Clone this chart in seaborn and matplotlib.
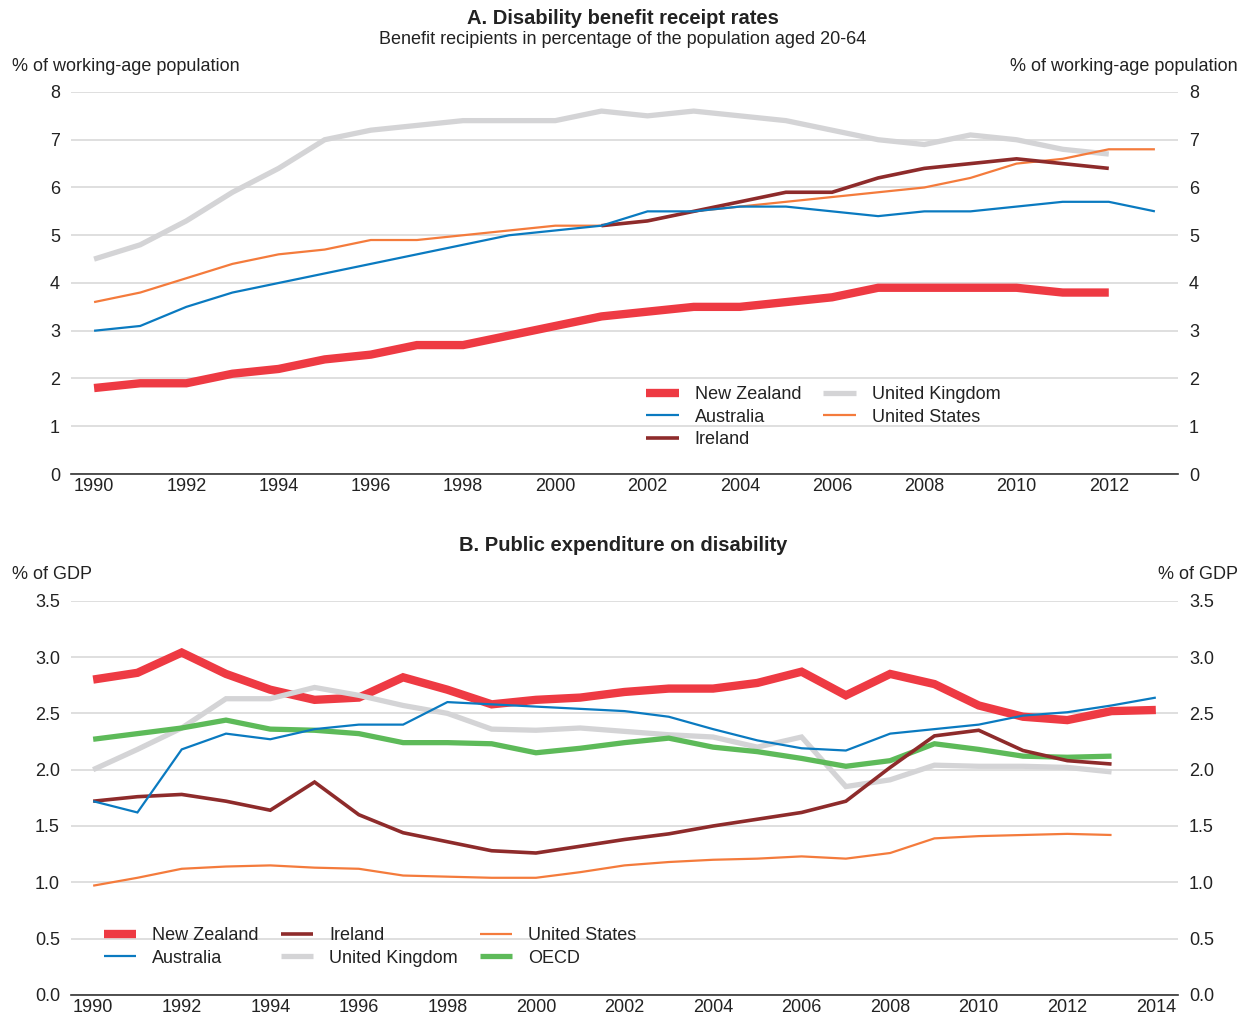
import numpy as np
import pandas as pd
import matplotlib
matplotlib.use("Agg")
import matplotlib.pyplot as plt
import matplotlib.ticker as mticker
import seaborn as sns

# ─── Data ────────────────────────────────────────────────────────────────────
nan = np.nan
years_a = list(range(1990, 2014))
nz_a = [1.8, 1.9, 1.9, 2.1, 2.2, 2.4, 2.5, 2.7, 2.7, 2.9, 3.1, 3.3,
        3.4, 3.5, 3.5, 3.6, 3.7, 3.9, 3.9, 3.9, 3.9, 3.8, 3.8, nan]
aus_a = [3.0, 3.1, 3.5, 3.8, 4.0, 4.2, 4.4, 4.6, 4.8, 5.0, 5.1, 5.2,
         5.5, 5.5, 5.6, 5.6, 5.5, 5.4, 5.5, 5.5, 5.6, 5.7, 5.7, 5.5]
irl_a = [nan, nan, nan, nan, nan, nan, nan, nan, nan, nan, nan, 5.2,
         5.3, 5.5, 5.7, 5.9, 5.9, 6.2, 6.4, 6.5, 6.6, 6.5, 6.4, nan]
uk_a = [4.5, 4.8, 5.3, 5.9, 6.4, 7.0, 7.2, 7.3, 7.4, 7.4, 7.4, 7.6,
        7.5, 7.6, 7.5, 7.4, 7.2, 7.0, 6.9, 7.1, 7.0, 6.8, 6.7, nan]
us_a = [3.6, 3.8, 4.1, 4.4, 4.6, 4.7, 4.9, 4.9, 5.0, 5.1, 5.2, 5.2,
        5.3, 5.5, 5.6, 5.7, 5.8, 5.9, 6.0, 6.2, 6.5, 6.6, 6.8, 6.8]

years_b = list(range(1990, 2015))
nz_b = [2.80, 2.86, 3.04, 2.85, 2.71, 2.62, 2.64, 2.82, 2.71, 2.58, 2.62, 2.64, 2.69,
        2.72, 2.72, 2.77, 2.87, 2.66, 2.85, 2.76, 2.57, 2.47, 2.44, 2.52, 2.53]
aus_b = [1.72, 1.62, 2.18, 2.32, 2.27, 2.36, 2.40, 2.40, 2.60, 2.58, 2.56, 2.54, 2.52,
         2.47, 2.36, 2.26, 2.19, 2.17, 2.32, 2.36, 2.40, 2.48, 2.51, 2.57, 2.64]
irl_b = [1.72, 1.76, 1.78, 1.72, 1.64, 1.89, 1.60, 1.44, 1.36, 1.28, 1.26, 1.32, 1.38,
         1.43, 1.50, 1.56, 1.62, 1.72, 2.02, 2.30, 2.35, 2.17, 2.08, 2.05, nan]
uk_b = [2.00, 2.18, 2.37, 2.63, 2.63, 2.73, 2.66, 2.57, 2.50, 2.36, 2.35, 2.37, 2.34,
        2.31, 2.29, 2.20, 2.29, 1.85, 1.91, 2.04, 2.03, 2.03, 2.02, 1.98, nan]
us_b = [0.97, 1.04, 1.12, 1.14, 1.15, 1.13, 1.12, 1.06, 1.05, 1.04, 1.04, 1.09, 1.15,
        1.18, 1.20, 1.21, 1.23, 1.21, 1.26, 1.39, 1.41, 1.42, 1.43, 1.42, nan]
oecd_b = [2.27, 2.32, 2.37, 2.44, 2.36, 2.35, 2.32, 2.24, 2.24, 2.23, 2.15, 2.19, 2.24,
          2.28, 2.20, 2.16, 2.10, 2.03, 2.08, 2.23, 2.18, 2.12, 2.11, 2.12, nan]

# ─── Style ───────────────────────────────────────────────────────────────────
COLORS = {
    "New Zealand":    "#EE3A43",
    "Australia":      "#0A7AC0",
    "Ireland":        "#8E2B2B",
    "United Kingdom": "#D4D4D6",
    "United States":  "#F47B3C",
    "OECD":           "#5DBA59",
}
WIDTHS = {
    "New Zealand": 6.0, "Australia": 1.6, "Ireland": 2.6,
    "United Kingdom": 3.8, "United States": 1.6, "OECD": 3.8,
}
GRID = "#D9D9D9"
TEXT = "#222222"

sns.set_theme(style="white")
plt.rcParams.update({
    "font.family": ["Liberation Sans", "DejaVu Sans"],
    "text.color": TEXT,
    "xtick.color": TEXT,
    "ytick.color": TEXT,
})
FS = 13
LEG = dict(frameon=False, fontsize=FS, loc="upper left", handlelength=1.8,
           handletextpad=0.9, columnspacing=1.2, labelspacing=0.3,
           borderaxespad=0)


def style_axis(ax, ymax, ystep, xmax, fmt):
    ax.set_xlim(1989.5, xmax + 0.5)
    ax.set_ylim(0, ymax)
    ax.yaxis.set_major_locator(mticker.MultipleLocator(ystep))
    ax.yaxis.set_major_formatter(mticker.FormatStrFormatter(fmt))
    ax.grid(axis="y", color=GRID, linewidth=1.2)
    ax.set_axisbelow(True)
    for s in ["left", "right", "top"]:
        ax.spines[s].set_visible(False)
    ax.spines["bottom"].set_color("#333333")
    ax.spines["bottom"].set_linewidth(1.2)
    ax.set_xticks(list(range(1990, xmax + 1, 2)))
    ax.set_xticks(np.arange(1989.5, xmax + 1, 1), minor=True)
    ax.tick_params(axis="x", which="major", length=0, pad=3, labelsize=FS)
    ax.tick_params(axis="x", which="minor", direction="in", length=4,
                   width=1, color="#333333")
    ax.tick_params(axis="y", length=0, labelsize=FS, pad=8,
                   labelleft=True, labelright=True)
    ax.set_xlabel("")
    ax.set_ylabel("")


def draw(ax, years, series):
    for name, vals in series:
        df = pd.DataFrame({"year": years, "value": vals}).dropna()
        sns.lineplot(data=df, x="year", y="value", ax=ax, color=COLORS[name],
                     linewidth=WIDTHS[name], label=name, legend=False,
                     solid_capstyle="butt", solid_joinstyle="miter")


fig = plt.figure(figsize=(12.46, 10.22), dpi=100)
ax_a = fig.add_axes([0.057, 0.5362, 0.8884, 0.3738])
ax_b = fig.add_axes([0.057, 0.0265, 0.8884, 0.3857])

# ─── A. Benefit receipt rates ────────────────────────────────────────────────
draw(ax_a, years_a, [("United Kingdom", uk_a), ("New Zealand", nz_a),
                     ("United States", us_a), ("Ireland", irl_a),
                     ("Australia", aus_a)])
style_axis(ax_a, 8, 1, 2013, "%d")
order_a = ["New Zealand", "Australia", "Ireland", "United Kingdom", "United States"]
h, l = ax_a.get_legend_handles_labels()
hd = dict(zip(l, h))
ax_a.legend([hd[k] for k in order_a], order_a, ncol=2,
            bbox_to_anchor=(0.513, 0.249), **LEG)

fig.text(0.5, 0.982, "A. Disability benefit receipt rates", ha="center",
         va="center", fontsize=14.5, fontweight="bold")
fig.text(0.5, 0.961, "Benefit recipients in percentage of the population aged 20-64",
         ha="center", va="center", fontsize=FS)
fig.text(0.0096, 0.9345, "% of working-age population", ha="left", va="center", fontsize=FS)
fig.text(0.9935, 0.9345, "% of working-age population", ha="right", va="center", fontsize=FS)

# ─── B. Public expenditure on disability ─────────────────────────────────────
draw(ax_b, years_b, [("New Zealand", nz_b), ("United Kingdom", uk_b),
                     ("OECD", oecd_b), ("Ireland", irl_b),
                     ("United States", us_b), ("Australia", aus_b)])
style_axis(ax_b, 3.5, 0.5, 2014, "%.1f")
order_b = ["New Zealand", "Australia", "Ireland", "United Kingdom",
           "United States", "OECD"]
h, l = ax_b.get_legend_handles_labels()
hd = dict(zip(l, h))
ax_b.legend([hd[k] for k in order_b], order_b, ncol=3,
            bbox_to_anchor=(0.023, 0.19), **LEG)

fig.text(0.5, 0.466, "B. Public expenditure on disability", ha="center",
         va="center", fontsize=14.5, fontweight="bold")
fig.text(0.0096, 0.4375, "% of GDP", ha="left", va="center", fontsize=FS)
fig.text(0.9935, 0.4375, "% of GDP", ha="right", va="center", fontsize=FS)

plt.savefig("out.png", dpi=100)
plt.close()
